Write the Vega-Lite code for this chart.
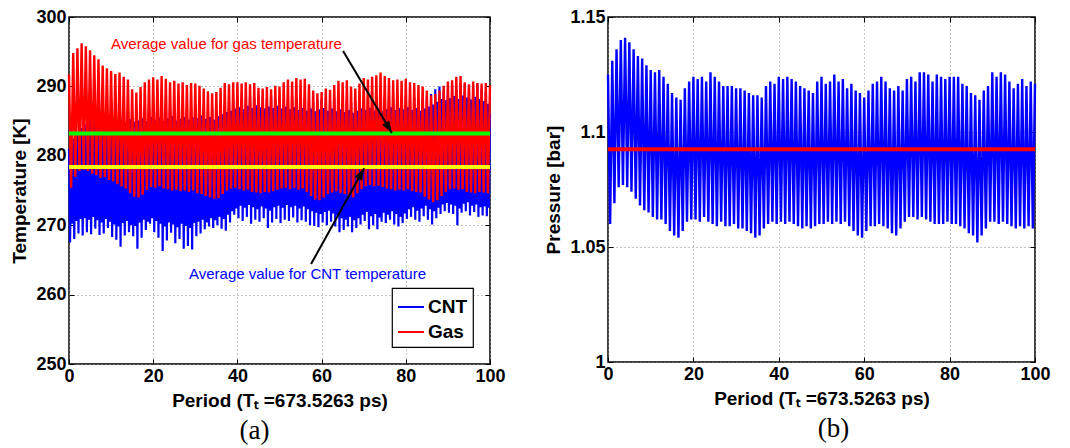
{
  "$schema": "https://vega.github.io/schema/vega-lite/v6.json",
  "padding": {"left": 10, "top": 7, "right": 5, "bottom": 2},
  "background": "white",
  "datasets": {
    "sim": [
      {"t":0,"Gas":291.7,"P":1.125},{"t":0.5,"Gas":275.4,"P":1.060},
      {"t":1,"Gas":294.8,"P":1.131},{"t":1.5,"Gas":277.0,"P":1.069},
      {"t":2,"Gas":295.5,"P":1.136},{"t":2.5,"Gas":277.8,"P":1.076},
      {"t":3,"Gas":296.2,"P":1.140},{"t":3.5,"Gas":278.0,"P":1.077},
      {"t":4,"Gas":295.8,"P":1.141},{"t":4.5,"Gas":277.8,"P":1.076},
      {"t":5,"Gas":295.2,"P":1.139},{"t":5.5,"Gas":277.4,"P":1.074},
      {"t":6,"Gas":294.5,"P":1.136},{"t":6.5,"Gas":277.2,"P":1.071},
      {"t":7,"Gas":293.9,"P":1.133},{"t":7.5,"Gas":276.8,"P":1.068},
      {"t":8,"Gas":293.0,"P":1.132},{"t":8.5,"Gas":276.9,"P":1.066},
      {"t":9,"Gas":292.6,"P":1.129},{"t":9.5,"Gas":276.5,"P":1.065},
      {"t":10,"Gas":292.2,"P":1.127},{"t":10.5,"Gas":276.3,"P":1.063},
      {"t":11,"Gas":291.8,"P":1.126},{"t":11.5,"Gas":275.9,"P":1.062},
      {"t":12,"Gas":292.0,"P":1.127},{"t":12.5,"Gas":275.6,"P":1.062},
      {"t":13,"Gas":291.4,"P":1.124},{"t":13.5,"Gas":275.3,"P":1.060},
      {"t":14,"Gas":291.0,"P":1.121},{"t":14.5,"Gas":274.6,"P":1.057},
      {"t":15,"Gas":289.6,"P":1.117},{"t":15.5,"Gas":274.1,"P":1.055},
      {"t":16,"Gas":289.1,"P":1.115},{"t":16.5,"Gas":274.0,"P":1.054},
      {"t":17,"Gas":289.9,"P":1.114},{"t":17.5,"Gas":274.4,"P":1.057},
      {"t":18,"Gas":290.6,"P":1.119},{"t":18.5,"Gas":275.1,"P":1.061},
      {"t":19,"Gas":291.0,"P":1.122},{"t":19.5,"Gas":275.5,"P":1.062},
      {"t":20,"Gas":291.3,"P":1.124},{"t":20.5,"Gas":275.4,"P":1.062},
      {"t":21,"Gas":291.0,"P":1.123},{"t":21.5,"Gas":275.6,"P":1.061},
      {"t":22,"Gas":291.5,"P":1.124},{"t":22.5,"Gas":275.3,"P":1.063},
      {"t":23,"Gas":291.1,"P":1.122},{"t":23.5,"Gas":275.2,"P":1.061},
      {"t":24,"Gas":290.6,"P":1.126},{"t":24.5,"Gas":275.0,"P":1.060},
      {"t":25,"Gas":290.8,"P":1.124},{"t":25.5,"Gas":275.1,"P":1.059},
      {"t":26,"Gas":290.4,"P":1.122},{"t":26.5,"Gas":274.9,"P":1.061},
      {"t":27,"Gas":290.6,"P":1.120},{"t":27.5,"Gas":275.0,"P":1.059},
      {"t":28,"Gas":290.2,"P":1.120},{"t":28.5,"Gas":274.8,"P":1.059},
      {"t":29,"Gas":290.5,"P":1.120},{"t":29.5,"Gas":275.0,"P":1.060},
      {"t":30,"Gas":290.4,"P":1.119},{"t":30.5,"Gas":274.6,"P":1.058},
      {"t":31,"Gas":290.1,"P":1.119},{"t":31.5,"Gas":274.5,"P":1.058},
      {"t":32,"Gas":289.7,"P":1.118},{"t":32.5,"Gas":274.2,"P":1.057},
      {"t":33,"Gas":289.3,"P":1.117},{"t":33.5,"Gas":274.0,"P":1.056},
      {"t":34,"Gas":289.0,"P":1.116},{"t":34.5,"Gas":273.8,"P":1.054},
      {"t":35,"Gas":289.2,"P":1.116},{"t":35.5,"Gas":273.9,"P":1.055},
      {"t":36,"Gas":289.8,"P":1.115},{"t":36.5,"Gas":274.5,"P":1.058},
      {"t":37,"Gas":290.5,"P":1.120},{"t":37.5,"Gas":275.0,"P":1.060},
      {"t":38,"Gas":290.3,"P":1.122},{"t":38.5,"Gas":275.3,"P":1.061},
      {"t":39,"Gas":290.6,"P":1.121},{"t":39.5,"Gas":275.4,"P":1.060},
      {"t":40,"Gas":290.6,"P":1.124},{"t":40.5,"Gas":275.2,"P":1.061},
      {"t":41,"Gas":290.4,"P":1.123},{"t":41.5,"Gas":275.0,"P":1.060},
      {"t":42,"Gas":290.6,"P":1.124},{"t":42.5,"Gas":275.1,"P":1.061},
      {"t":43,"Gas":290.3,"P":1.123},{"t":43.5,"Gas":274.8,"P":1.060},
      {"t":44,"Gas":290.5,"P":1.122},{"t":44.5,"Gas":274.7,"P":1.059},
      {"t":45,"Gas":289.8,"P":1.120},{"t":45.5,"Gas":274.6,"P":1.058},
      {"t":46,"Gas":289.7,"P":1.119},{"t":46.5,"Gas":274.8,"P":1.059},
      {"t":47,"Gas":289.9,"P":1.118},{"t":47.5,"Gas":274.7,"P":1.058},
      {"t":48,"Gas":289.6,"P":1.117},{"t":48.5,"Gas":274.9,"P":1.059},
      {"t":49,"Gas":290.1,"P":1.122},{"t":49.5,"Gas":275.1,"P":1.060},
      {"t":50,"Gas":290.0,"P":1.124},{"t":50.5,"Gas":275.3,"P":1.060},
      {"t":51,"Gas":290.6,"P":1.121},{"t":51.5,"Gas":275.4,"P":1.061},
      {"t":52,"Gas":291.0,"P":1.122},{"t":52.5,"Gas":275.2,"P":1.060},
      {"t":53,"Gas":290.7,"P":1.125},{"t":53.5,"Gas":275.4,"P":1.061},
      {"t":54,"Gas":291.2,"P":1.122},{"t":54.5,"Gas":275.1,"P":1.060},
      {"t":55,"Gas":291.0,"P":1.123},{"t":55.5,"Gas":275.3,"P":1.061},
      {"t":56,"Gas":291.1,"P":1.119},{"t":56.5,"Gas":274.8,"P":1.059},
      {"t":57,"Gas":290.3,"P":1.121},{"t":57.5,"Gas":274.2,"P":1.057},
      {"t":58,"Gas":289.4,"P":1.118},{"t":58.5,"Gas":273.7,"P":1.055},
      {"t":59,"Gas":289.0,"P":1.117},{"t":59.5,"Gas":273.6,"P":1.054},
      {"t":60,"Gas":289.2,"P":1.115},{"t":60.5,"Gas":274.0,"P":1.057},
      {"t":61,"Gas":289.7,"P":1.118},{"t":61.5,"Gas":274.5,"P":1.059},
      {"t":62,"Gas":289.5,"P":1.121},{"t":62.5,"Gas":274.7,"P":1.059},
      {"t":63,"Gas":290.2,"P":1.122},{"t":63.5,"Gas":274.9,"P":1.060},
      {"t":64,"Gas":290.8,"P":1.124},{"t":64.5,"Gas":274.6,"P":1.059},
      {"t":65,"Gas":290.6,"P":1.122},{"t":65.5,"Gas":274.5,"P":1.058},
      {"t":66,"Gas":290.9,"P":1.119},{"t":66.5,"Gas":274.1,"P":1.056},
      {"t":67,"Gas":290.0,"P":1.118},{"t":67.5,"Gas":274.0,"P":1.055},
      {"t":68,"Gas":289.7,"P":1.120},{"t":68.5,"Gas":274.6,"P":1.058},
      {"t":69,"Gas":290.4,"P":1.118},{"t":69.5,"Gas":275.2,"P":1.061},
      {"t":70,"Gas":291.2,"P":1.123},{"t":70.5,"Gas":275.6,"P":1.063},
      {"t":71,"Gas":291.0,"P":1.124},{"t":71.5,"Gas":275.8,"P":1.063},
      {"t":72,"Gas":291.4,"P":1.122},{"t":72.5,"Gas":275.6,"P":1.062},
      {"t":73,"Gas":291.6,"P":1.126},{"t":73.5,"Gas":275.7,"P":1.063},
      {"t":74,"Gas":292.0,"P":1.126},{"t":74.5,"Gas":275.5,"P":1.062},
      {"t":75,"Gas":291.5,"P":1.125},{"t":75.5,"Gas":275.3,"P":1.061},
      {"t":76,"Gas":291.2,"P":1.122},{"t":76.5,"Gas":275.2,"P":1.060},
      {"t":77,"Gas":290.9,"P":1.125},{"t":77.5,"Gas":275.0,"P":1.060},
      {"t":78,"Gas":291.0,"P":1.124},{"t":78.5,"Gas":275.1,"P":1.060},
      {"t":79,"Gas":290.8,"P":1.123},{"t":79.5,"Gas":275.0,"P":1.061},
      {"t":80,"Gas":291.1,"P":1.124},{"t":80.5,"Gas":275.2,"P":1.060},
      {"t":81,"Gas":290.6,"P":1.124},{"t":81.5,"Gas":274.9,"P":1.060},
      {"t":82,"Gas":290.5,"P":1.124},{"t":82.5,"Gas":274.8,"P":1.059},
      {"t":83,"Gas":290.2,"P":1.121},{"t":83.5,"Gas":274.7,"P":1.058},
      {"t":84,"Gas":290.0,"P":1.120},{"t":84.5,"Gas":274.1,"P":1.056},
      {"t":85,"Gas":289.4,"P":1.117},{"t":85.5,"Gas":273.7,"P":1.055},
      {"t":86,"Gas":288.7,"P":1.116},{"t":86.5,"Gas":273.3,"P":1.052},
      {"t":87,"Gas":288.9,"P":1.114},{"t":87.5,"Gas":273.6,"P":1.055},
      {"t":88,"Gas":289.4,"P":1.118},{"t":88.5,"Gas":274.2,"P":1.058},
      {"t":89,"Gas":290.1,"P":1.120},{"t":89.5,"Gas":274.8,"P":1.061},
      {"t":90,"Gas":290.7,"P":1.126},{"t":90.5,"Gas":275.2,"P":1.061},
      {"t":91,"Gas":290.9,"P":1.124},{"t":91.5,"Gas":275.3,"P":1.060},
      {"t":92,"Gas":291.4,"P":1.126},{"t":92.5,"Gas":275.1,"P":1.061},
      {"t":93,"Gas":291.5,"P":1.125},{"t":93.5,"Gas":275.2,"P":1.060},
      {"t":94,"Gas":290.6,"P":1.122},{"t":94.5,"Gas":274.8,"P":1.059},
      {"t":95,"Gas":290.3,"P":1.119},{"t":95.5,"Gas":274.7,"P":1.058},
      {"t":96,"Gas":290.7,"P":1.121},{"t":96.5,"Gas":274.6,"P":1.059},
      {"t":97,"Gas":290.5,"P":1.123},{"t":97.5,"Gas":274.8,"P":1.058},
      {"t":98,"Gas":290.4,"P":1.120},{"t":98.5,"Gas":274.7,"P":1.059},
      {"t":99,"Gas":290.5,"P":1.122},{"t":99.5,"Gas":274.6,"P":1.058},
      {"t":100,"Gas":290.2,"P":1.121}
    ],
    "cnt": [
      {"t":0,"v":281.0},{"t":0.25,"v":267.5},{"t":0.5,"v":279.5},{"t":0.75,"v":270.2},
      {"t":1,"v":282.5},{"t":1.25,"v":268.0},{"t":1.5,"v":281.0},{"t":1.75,"v":270.6},
      {"t":2,"v":283.0},{"t":2.25,"v":268.8},{"t":2.5,"v":282.0},{"t":2.75,"v":270.9},
      {"t":3,"v":284.0},{"t":3.25,"v":268.5},{"t":3.5,"v":282.8},{"t":3.75,"v":271.0},
      {"t":4,"v":284.5},{"t":4.25,"v":269.0},{"t":4.5,"v":283.2},{"t":4.75,"v":270.8},
      {"t":5,"v":285.0},{"t":5.25,"v":268.7},{"t":5.5,"v":283.5},{"t":5.75,"v":271.2},
      {"t":6,"v":285.0},{"t":6.25,"v":269.5},{"t":6.5,"v":284.0},{"t":6.75,"v":270.7},
      {"t":7,"v":285.5},{"t":7.25,"v":268.6},{"t":7.5,"v":284.3},{"t":7.75,"v":270.4},
      {"t":8,"v":286.0},{"t":8.25,"v":268.8},{"t":8.5,"v":284.5},{"t":8.75,"v":270.9},
      {"t":9,"v":285.5},{"t":9.25,"v":269.6},{"t":9.5,"v":284.8},{"t":9.75,"v":270.5},
      {"t":10,"v":286.2},{"t":10.25,"v":268.3},{"t":10.5,"v":285.0},{"t":10.75,"v":270.1},
      {"t":11,"v":286.5},{"t":11.25,"v":267.9},{"t":11.5,"v":284.6},{"t":11.75,"v":269.8},
      {"t":12,"v":286.0},{"t":12.25,"v":266.9},{"t":12.5,"v":285.2},{"t":12.75,"v":270.3},
      {"t":13,"v":286.8},{"t":13.25,"v":268.5},{"t":13.5,"v":284.8},{"t":13.75,"v":270.6},
      {"t":14,"v":286.3},{"t":14.25,"v":269.0},{"t":14.5,"v":285.3},{"t":14.75,"v":270.0},
      {"t":15,"v":286.0},{"t":15.25,"v":268.4},{"t":15.5,"v":284.9},{"t":15.75,"v":269.9},
      {"t":16,"v":286.5},{"t":16.25,"v":266.6},{"t":16.5,"v":285.1},{"t":16.75,"v":270.4},
      {"t":17,"v":286.2},{"t":17.25,"v":268.2},{"t":17.5,"v":285.4},{"t":17.75,"v":270.8},
      {"t":18,"v":286.8},{"t":18.25,"v":269.3},{"t":18.5,"v":285.0},{"t":18.75,"v":270.5},
      {"t":19,"v":287.0},{"t":19.25,"v":270.2},{"t":19.5,"v":285.6},{"t":19.75,"v":271.0},
      {"t":20,"v":286.6},{"t":20.25,"v":269.0},{"t":20.5,"v":285.2},{"t":20.75,"v":270.6},
      {"t":21,"v":287.2},{"t":21.25,"v":268.2},{"t":21.5,"v":285.5},{"t":21.75,"v":270.2},
      {"t":22,"v":286.8},{"t":22.25,"v":266.3},{"t":22.5,"v":285.0},{"t":22.75,"v":269.8},
      {"t":23,"v":286.5},{"t":23.25,"v":267.8},{"t":23.5,"v":285.4},{"t":23.75,"v":270.4},
      {"t":24,"v":287.0},{"t":24.25,"v":268.9},{"t":24.5,"v":285.7},{"t":24.75,"v":270.1},
      {"t":25,"v":286.7},{"t":25.25,"v":267.4},{"t":25.5,"v":285.1},{"t":25.75,"v":269.7},
      {"t":26,"v":286.4},{"t":26.25,"v":268.0},{"t":26.5,"v":285.3},{"t":26.75,"v":270.2},
      {"t":27,"v":286.8},{"t":27.25,"v":266.6},{"t":27.5,"v":285.6},{"t":27.75,"v":269.9},
      {"t":28,"v":287.0},{"t":28.25,"v":267.0},{"t":28.5,"v":285.2},{"t":28.75,"v":269.6},
      {"t":29,"v":286.5},{"t":29.25,"v":266.5},{"t":29.5,"v":285.5},{"t":29.75,"v":270.3},
      {"t":30,"v":286.9},{"t":30.25,"v":268.4},{"t":30.5,"v":285.4},{"t":30.75,"v":270.5},
      {"t":31,"v":287.2},{"t":31.25,"v":268.8},{"t":31.5,"v":285.8},{"t":31.75,"v":270.8},
      {"t":32,"v":286.8},{"t":32.25,"v":269.4},{"t":32.5,"v":285.3},{"t":32.75,"v":270.4},
      {"t":33,"v":286.5},{"t":33.25,"v":269.8},{"t":33.5,"v":285.6},{"t":33.75,"v":271.0},
      {"t":34,"v":287.0},{"t":34.25,"v":269.6},{"t":34.5,"v":285.2},{"t":34.75,"v":270.7},
      {"t":35,"v":286.6},{"t":35.25,"v":270.0},{"t":35.5,"v":285.7},{"t":35.75,"v":271.2},
      {"t":36,"v":287.3},{"t":36.25,"v":269.5},{"t":36.5,"v":286.0},{"t":36.75,"v":270.9},
      {"t":37,"v":287.5},{"t":37.25,"v":269.2},{"t":37.5,"v":286.3},{"t":37.75,"v":271.5},
      {"t":38,"v":287.8},{"t":38.25,"v":270.4},{"t":38.5,"v":286.5},{"t":38.75,"v":272.0},
      {"t":39,"v":288.0},{"t":39.25,"v":271.5},{"t":39.5,"v":286.8},{"t":39.75,"v":272.4},
      {"t":40,"v":288.3},{"t":40.25,"v":271.0},{"t":40.5,"v":287.0},{"t":40.75,"v":272.8},
      {"t":41,"v":288.5},{"t":41.25,"v":270.6},{"t":41.5,"v":286.7},{"t":41.75,"v":272.5},
      {"t":42,"v":288.2},{"t":42.25,"v":271.2},{"t":42.5,"v":287.2},{"t":42.75,"v":272.9},
      {"t":43,"v":288.6},{"t":43.25,"v":270.2},{"t":43.5,"v":286.9},{"t":43.75,"v":272.6},
      {"t":44,"v":288.4},{"t":44.25,"v":270.8},{"t":44.5,"v":287.3},{"t":44.75,"v":272.3},
      {"t":45,"v":288.8},{"t":45.25,"v":270.5},{"t":45.5,"v":287.0},{"t":45.75,"v":272.7},
      {"t":46,"v":288.5},{"t":46.25,"v":271.0},{"t":46.5,"v":286.8},{"t":46.75,"v":272.4},
      {"t":47,"v":288.3},{"t":47.25,"v":269.6},{"t":47.5,"v":287.1},{"t":47.75,"v":272.1},
      {"t":48,"v":288.6},{"t":48.25,"v":270.4},{"t":48.5,"v":286.9},{"t":48.75,"v":272.6},
      {"t":49,"v":288.2},{"t":49.25,"v":270.9},{"t":49.5,"v":287.2},{"t":49.75,"v":272.8},
      {"t":50,"v":288.5},{"t":50.25,"v":270.3},{"t":50.5,"v":286.8},{"t":50.75,"v":272.5},
      {"t":51,"v":288.0},{"t":51.25,"v":270.8},{"t":51.5,"v":287.1},{"t":51.75,"v":272.9},
      {"t":52,"v":288.3},{"t":52.25,"v":270.6},{"t":52.5,"v":286.7},{"t":52.75,"v":272.6},
      {"t":53,"v":288.6},{"t":53.25,"v":271.1},{"t":53.5,"v":287.0},{"t":53.75,"v":272.8},
      {"t":54,"v":288.2},{"t":54.25,"v":270.4},{"t":54.5,"v":286.6},{"t":54.75,"v":272.4},
      {"t":55,"v":288.0},{"t":55.25,"v":270.7},{"t":55.5,"v":286.9},{"t":55.75,"v":272.7},
      {"t":56,"v":288.4},{"t":56.25,"v":270.5},{"t":56.5,"v":286.5},{"t":56.75,"v":272.3},
      {"t":57,"v":288.1},{"t":57.25,"v":270.0},{"t":57.5,"v":286.8},{"t":57.75,"v":272.0},
      {"t":58,"v":287.8},{"t":58.25,"v":269.9},{"t":58.5,"v":286.4},{"t":58.75,"v":271.8},
      {"t":59,"v":288.0},{"t":59.25,"v":269.7},{"t":59.5,"v":286.7},{"t":59.75,"v":271.6},
      {"t":60,"v":288.2},{"t":60.25,"v":270.4},{"t":60.5,"v":286.9},{"t":60.75,"v":271.9},
      {"t":61,"v":288.5},{"t":61.25,"v":270.0},{"t":61.5,"v":286.5},{"t":61.75,"v":272.1},
      {"t":62,"v":288.0},{"t":62.25,"v":270.5},{"t":62.5,"v":286.8},{"t":62.75,"v":271.7},
      {"t":63,"v":288.4},{"t":63.25,"v":269.8},{"t":63.5,"v":286.4},{"t":63.75,"v":271.4},
      {"t":64,"v":288.2},{"t":64.25,"v":269.0},{"t":64.5,"v":286.7},{"t":64.75,"v":271.0},
      {"t":65,"v":287.8},{"t":65.25,"v":269.3},{"t":65.5,"v":286.3},{"t":65.75,"v":270.8},
      {"t":66,"v":288.1},{"t":66.25,"v":269.8},{"t":66.5,"v":286.6},{"t":66.75,"v":271.2},
      {"t":67,"v":287.6},{"t":67.25,"v":269.0},{"t":67.5,"v":286.2},{"t":67.75,"v":270.7},
      {"t":68,"v":287.9},{"t":68.25,"v":269.6},{"t":68.5,"v":286.5},{"t":68.75,"v":271.0},
      {"t":69,"v":288.2},{"t":69.25,"v":270.1},{"t":69.5,"v":286.8},{"t":69.75,"v":271.5},
      {"t":70,"v":288.0},{"t":70.25,"v":270.6},{"t":70.5,"v":286.6},{"t":70.75,"v":271.9},
      {"t":71,"v":288.3},{"t":71.25,"v":269.4},{"t":71.5,"v":286.9},{"t":71.75,"v":271.3},
      {"t":72,"v":288.1},{"t":72.25,"v":270.0},{"t":72.5,"v":286.5},{"t":72.75,"v":271.6},
      {"t":73,"v":288.4},{"t":73.25,"v":269.4},{"t":73.5,"v":286.8},{"t":73.75,"v":271.1},
      {"t":74,"v":288.0},{"t":74.25,"v":270.5},{"t":74.5,"v":286.4},{"t":74.75,"v":271.8},
      {"t":75,"v":288.3},{"t":75.25,"v":270.3},{"t":75.5,"v":286.7},{"t":75.75,"v":271.5},
      {"t":76,"v":288.6},{"t":76.25,"v":270.8},{"t":76.5,"v":287.0},{"t":76.75,"v":272.0},
      {"t":77,"v":288.2},{"t":77.25,"v":270.1},{"t":77.5,"v":286.6},{"t":77.75,"v":271.6},
      {"t":78,"v":288.5},{"t":78.25,"v":269.8},{"t":78.5,"v":286.9},{"t":78.75,"v":271.2},
      {"t":79,"v":288.3},{"t":79.25,"v":270.3},{"t":79.5,"v":286.7},{"t":79.75,"v":271.7},
      {"t":80,"v":288.6},{"t":80.25,"v":270.9},{"t":80.5,"v":287.0},{"t":80.75,"v":272.3},
      {"t":81,"v":288.2},{"t":81.25,"v":271.2},{"t":81.5,"v":286.6},{"t":81.75,"v":272.6},
      {"t":82,"v":288.4},{"t":82.25,"v":270.8},{"t":82.5,"v":286.9},{"t":82.75,"v":272.1},
      {"t":83,"v":288.0},{"t":83.25,"v":270.5},{"t":83.5,"v":286.5},{"t":83.75,"v":272.4},
      {"t":84,"v":288.3},{"t":84.25,"v":271.3},{"t":84.5,"v":286.8},{"t":84.75,"v":272.8},
      {"t":85,"v":288.6},{"t":85.25,"v":270.8},{"t":85.5,"v":287.1},{"t":85.75,"v":272.3},
      {"t":86,"v":288.9},{"t":86.25,"v":270.1},{"t":86.5,"v":287.4},{"t":86.75,"v":272.0},
      {"t":87,"v":289.6},{"t":87.25,"v":271.0},{"t":87.5,"v":287.8},{"t":87.75,"v":272.5},
      {"t":88,"v":290.0},{"t":88.25,"v":271.6},{"t":88.5,"v":288.2},{"t":88.75,"v":273.0},
      {"t":89,"v":289.4},{"t":89.25,"v":272.0},{"t":89.5,"v":288.0},{"t":89.75,"v":273.2},
      {"t":90,"v":289.8},{"t":90.25,"v":271.8},{"t":90.5,"v":288.3},{"t":90.75,"v":273.0},
      {"t":91,"v":290.2},{"t":91.25,"v":271.6},{"t":91.5,"v":288.6},{"t":91.75,"v":272.8},
      {"t":92,"v":289.6},{"t":92.25,"v":270.0},{"t":92.5,"v":288.2},{"t":92.75,"v":272.4},
      {"t":93,"v":290.5},{"t":93.25,"v":271.8},{"t":93.5,"v":288.7},{"t":93.75,"v":273.1},
      {"t":94,"v":290.3},{"t":94.25,"v":272.0},{"t":94.5,"v":288.4},{"t":94.75,"v":273.3},
      {"t":95,"v":290.0},{"t":95.25,"v":271.4},{"t":95.5,"v":288.1},{"t":95.75,"v":272.8},
      {"t":96,"v":289.8},{"t":96.25,"v":271.9},{"t":96.5,"v":288.5},{"t":96.75,"v":273.0},
      {"t":97,"v":290.4},{"t":97.25,"v":271.2},{"t":97.5,"v":288.2},{"t":97.75,"v":272.6},
      {"t":98,"v":289.7},{"t":98.25,"v":271.4},{"t":98.5,"v":287.9},{"t":98.75,"v":272.7},
      {"t":99,"v":289.3},{"t":99.25,"v":271.3},{"t":99.5,"v":287.5},{"t":99.75,"v":272.5},
      {"t":100,"v":286.0}
    ]
  },
  "config": {
    "view": {"stroke": "black", "strokeWidth": 1.5},
    "font": "Liberation Sans",
    "axis": {
      "labelFont": "Liberation Sans", "labelFontWeight": "bold", "labelFontSize": 18, "labelColor": "black",
      "titleFont": "Liberation Sans", "titleFontWeight": "bold", "titleFontSize": 19, "titleColor": "black",
      "domain": false, "tickColor": "black", "tickSize": -5, "tickWidth": 1, "labelPadding": 8,
      "gridColor": "#8c8c8c", "gridDash": [1, 3], "gridWidth": 1, "gridOpacity": 1,
      "labelOverlap": false, "labelFlush": false, "labelBound": false
    },
    "legend": {
      "strokeColor": "black", "strokeWidth": 1.2, "fillColor": "white", "padding": 5,
      "labelFont": "Liberation Sans", "labelFontWeight": "bold", "labelFontSize": 19, "labelColor": "black",
      "symbolType": "stroke", "symbolStrokeWidth": 2, "symbolSize": 676, "rowPadding": 1, "labelOffset": 3
    }
  },
  "spacing": 118,
  "bounds": "flush",
  "resolve": {"scale": {"color": "independent"}, "legend": {"color": "independent"}},
  "hconcat": [
    {
      "width": 421,
      "height": 347,
      "title": {"text": "(a)", "orient": "bottom", "font": "Liberation Serif", "fontSize": 27, "fontWeight": "normal", "color": "black", "dx": -25, "offset": 8},
      "resolve": {"axis": {"x": "independent", "y": "independent"}},
      "layer": [
        {
          "data": {"name": "cnt"},
          "mark": {"type": "line", "strokeWidth": 2.2},
          "encoding": {
            "x": {"field": "t", "type": "quantitative", "scale": {"domain": [0, 100], "nice": false},
                  "axis": {"values": [0, 20, 40, 60, 80, 100], "title": "Period (Tₜ =673.5263 ps)", "titlePadding": 6}},
            "y": {"field": "v", "type": "quantitative", "scale": {"domain": [250, 300], "nice": false, "zero": false},
                  "axis": {"values": [250, 260, 270, 280, 290, 300], "title": "Temperature [K]", "titlePadding": 6}},
            "color": {"datum": "CNT", "type": "nominal", "scale": {"domain": ["CNT", "Gas"], "range": ["#0000ff", "#ff0000"]},
                      "legend": {"title": null, "orient": "bottom-right", "offset": 17}}
          }
        },
        {
          "data": {"name": "sim"},
          "mark": {"type": "line", "strokeWidth": 2.4},
          "encoding": {
            "x": {"field": "t", "type": "quantitative", "axis": null},
            "y": {"field": "Gas", "type": "quantitative", "axis": null},
            "color": {"datum": "Gas", "type": "nominal"}
          }
        },
        {
          "data": {"values": [{"avg": 283.2}]},
          "mark": {"type": "rule", "color": "#00ff00", "strokeWidth": 4},
          "encoding": {
            "y": {"field": "avg", "type": "quantitative", "scale": {"domain": [250, 300], "nice": false, "zero": false},
                  "axis": {"orient": "right", "values": [250, 260, 270, 280, 290, 300], "labels": false, "title": null, "grid": false}}
          }
        },
        {
          "data": {"values": [{"avg": 278.4}]},
          "mark": {"type": "rule", "color": "#ffff00", "strokeWidth": 4},
          "encoding": {
            "y": {"field": "avg", "type": "quantitative", "axis": null}
          }
        },
        {
          "data": {"values": [{"x": 10.0, "y": 296.1, "label": "Average value for gas temperature"}]},
          "mark": {"type": "text", "align": "left", "baseline": "middle", "font": "Liberation Sans", "fontSize": 15, "color": "#ff0000"},
          "encoding": {
            "x": {"field": "x", "type": "quantitative", "scale": {"domain": [0, 100], "nice": false},
                  "axis": {"orient": "top", "values": [0, 20, 40, 60, 80, 100], "labels": false, "title": null, "grid": false}},
            "y": {"field": "y", "type": "quantitative", "axis": null},
            "text": {"field": "label"}
          }
        },
        {
          "data": {"values": [{"x": 28.5, "y": 263.0, "label": "Average value for CNT temperature"}]},
          "mark": {"type": "text", "align": "left", "baseline": "middle", "font": "Liberation Sans", "fontSize": 15, "color": "#0000ff"},
          "encoding": {
            "x": {"field": "x", "type": "quantitative", "axis": null},
            "y": {"field": "y", "type": "quantitative", "axis": null},
            "text": {"field": "label"}
          }
        },
        {
          "data": {"values": [{"x": 65.1, "y": 295.1, "x2": 76.7, "y2": 283.3}, {"x": 57.5, "y": 264.4, "x2": 70.1, "y2": 278.2}]},
          "mark": {"type": "rule", "color": "black", "strokeWidth": 2},
          "encoding": {
            "x": {"field": "x", "type": "quantitative", "axis": null},
            "y": {"field": "y", "type": "quantitative", "axis": null},
            "x2": {"field": "x2"},
            "y2": {"field": "y2"}
          }
        },
        {
          "data": {"values": [{"x": 76.7, "y": 283.3}]},
          "mark": {"type": "point", "shape": "M0,0L-0.35,1L0.35,1Z", "filled": true, "color": "black", "opacity": 1, "size": 576, "angle": 149.1},
          "encoding": {
            "x": {"field": "x", "type": "quantitative", "axis": null},
            "y": {"field": "y", "type": "quantitative", "axis": null}
          }
        },
        {
          "data": {"values": [{"x": 70.1, "y": 278.2}]},
          "mark": {"type": "point", "shape": "M0,0L-0.35,1L0.35,1Z", "filled": true, "color": "black", "opacity": 1, "size": 576, "angle": 28.9},
          "encoding": {
            "x": {"field": "x", "type": "quantitative", "axis": null},
            "y": {"field": "y", "type": "quantitative", "axis": null}
          }
        }
      ]
    },
    {
      "width": 427,
      "height": 345,
      "title": {"text": "(b)", "orient": "bottom", "font": "Liberation Serif", "fontSize": 27, "fontWeight": "normal", "color": "black", "dx": 12, "offset": 8},
      "resolve": {"axis": {"x": "independent", "y": "independent"}},
      "layer": [
        {
          "data": {"name": "sim"},
          "mark": {"type": "line", "strokeWidth": 2.4, "color": "#0000ff"},
          "encoding": {
            "x": {"field": "t", "type": "quantitative", "scale": {"domain": [0, 100], "nice": false},
                  "axis": {"values": [0, 20, 40, 60, 80, 100], "title": "Period (Tₜ =673.5263 ps)", "titlePadding": 6}},
            "y": {"field": "P", "type": "quantitative", "scale": {"domain": [1, 1.15], "nice": false, "zero": false},
                  "axis": {"values": [1, 1.05, 1.1, 1.15], "format": "~g", "title": "Pressure [bar]", "titlePadding": 6}}
          }
        },
        {
          "data": {"values": [{"avg": 1.0925, "start": 0, "end": 100}]},
          "mark": {"type": "rule", "color": "#ff0000", "strokeWidth": 4},
          "encoding": {
            "x": {"field": "start", "type": "quantitative", "scale": {"domain": [0, 100], "nice": false},
                  "axis": {"orient": "top", "values": [0, 20, 40, 60, 80, 100], "labels": false, "title": null, "grid": false}},
            "x2": {"field": "end"},
            "y": {"field": "avg", "type": "quantitative", "scale": {"domain": [1, 1.15], "nice": false, "zero": false},
                  "axis": {"orient": "right", "values": [1, 1.05, 1.1, 1.15], "labels": false, "title": null, "grid": false}}
          }
        }
      ]
    }
  ]
}
